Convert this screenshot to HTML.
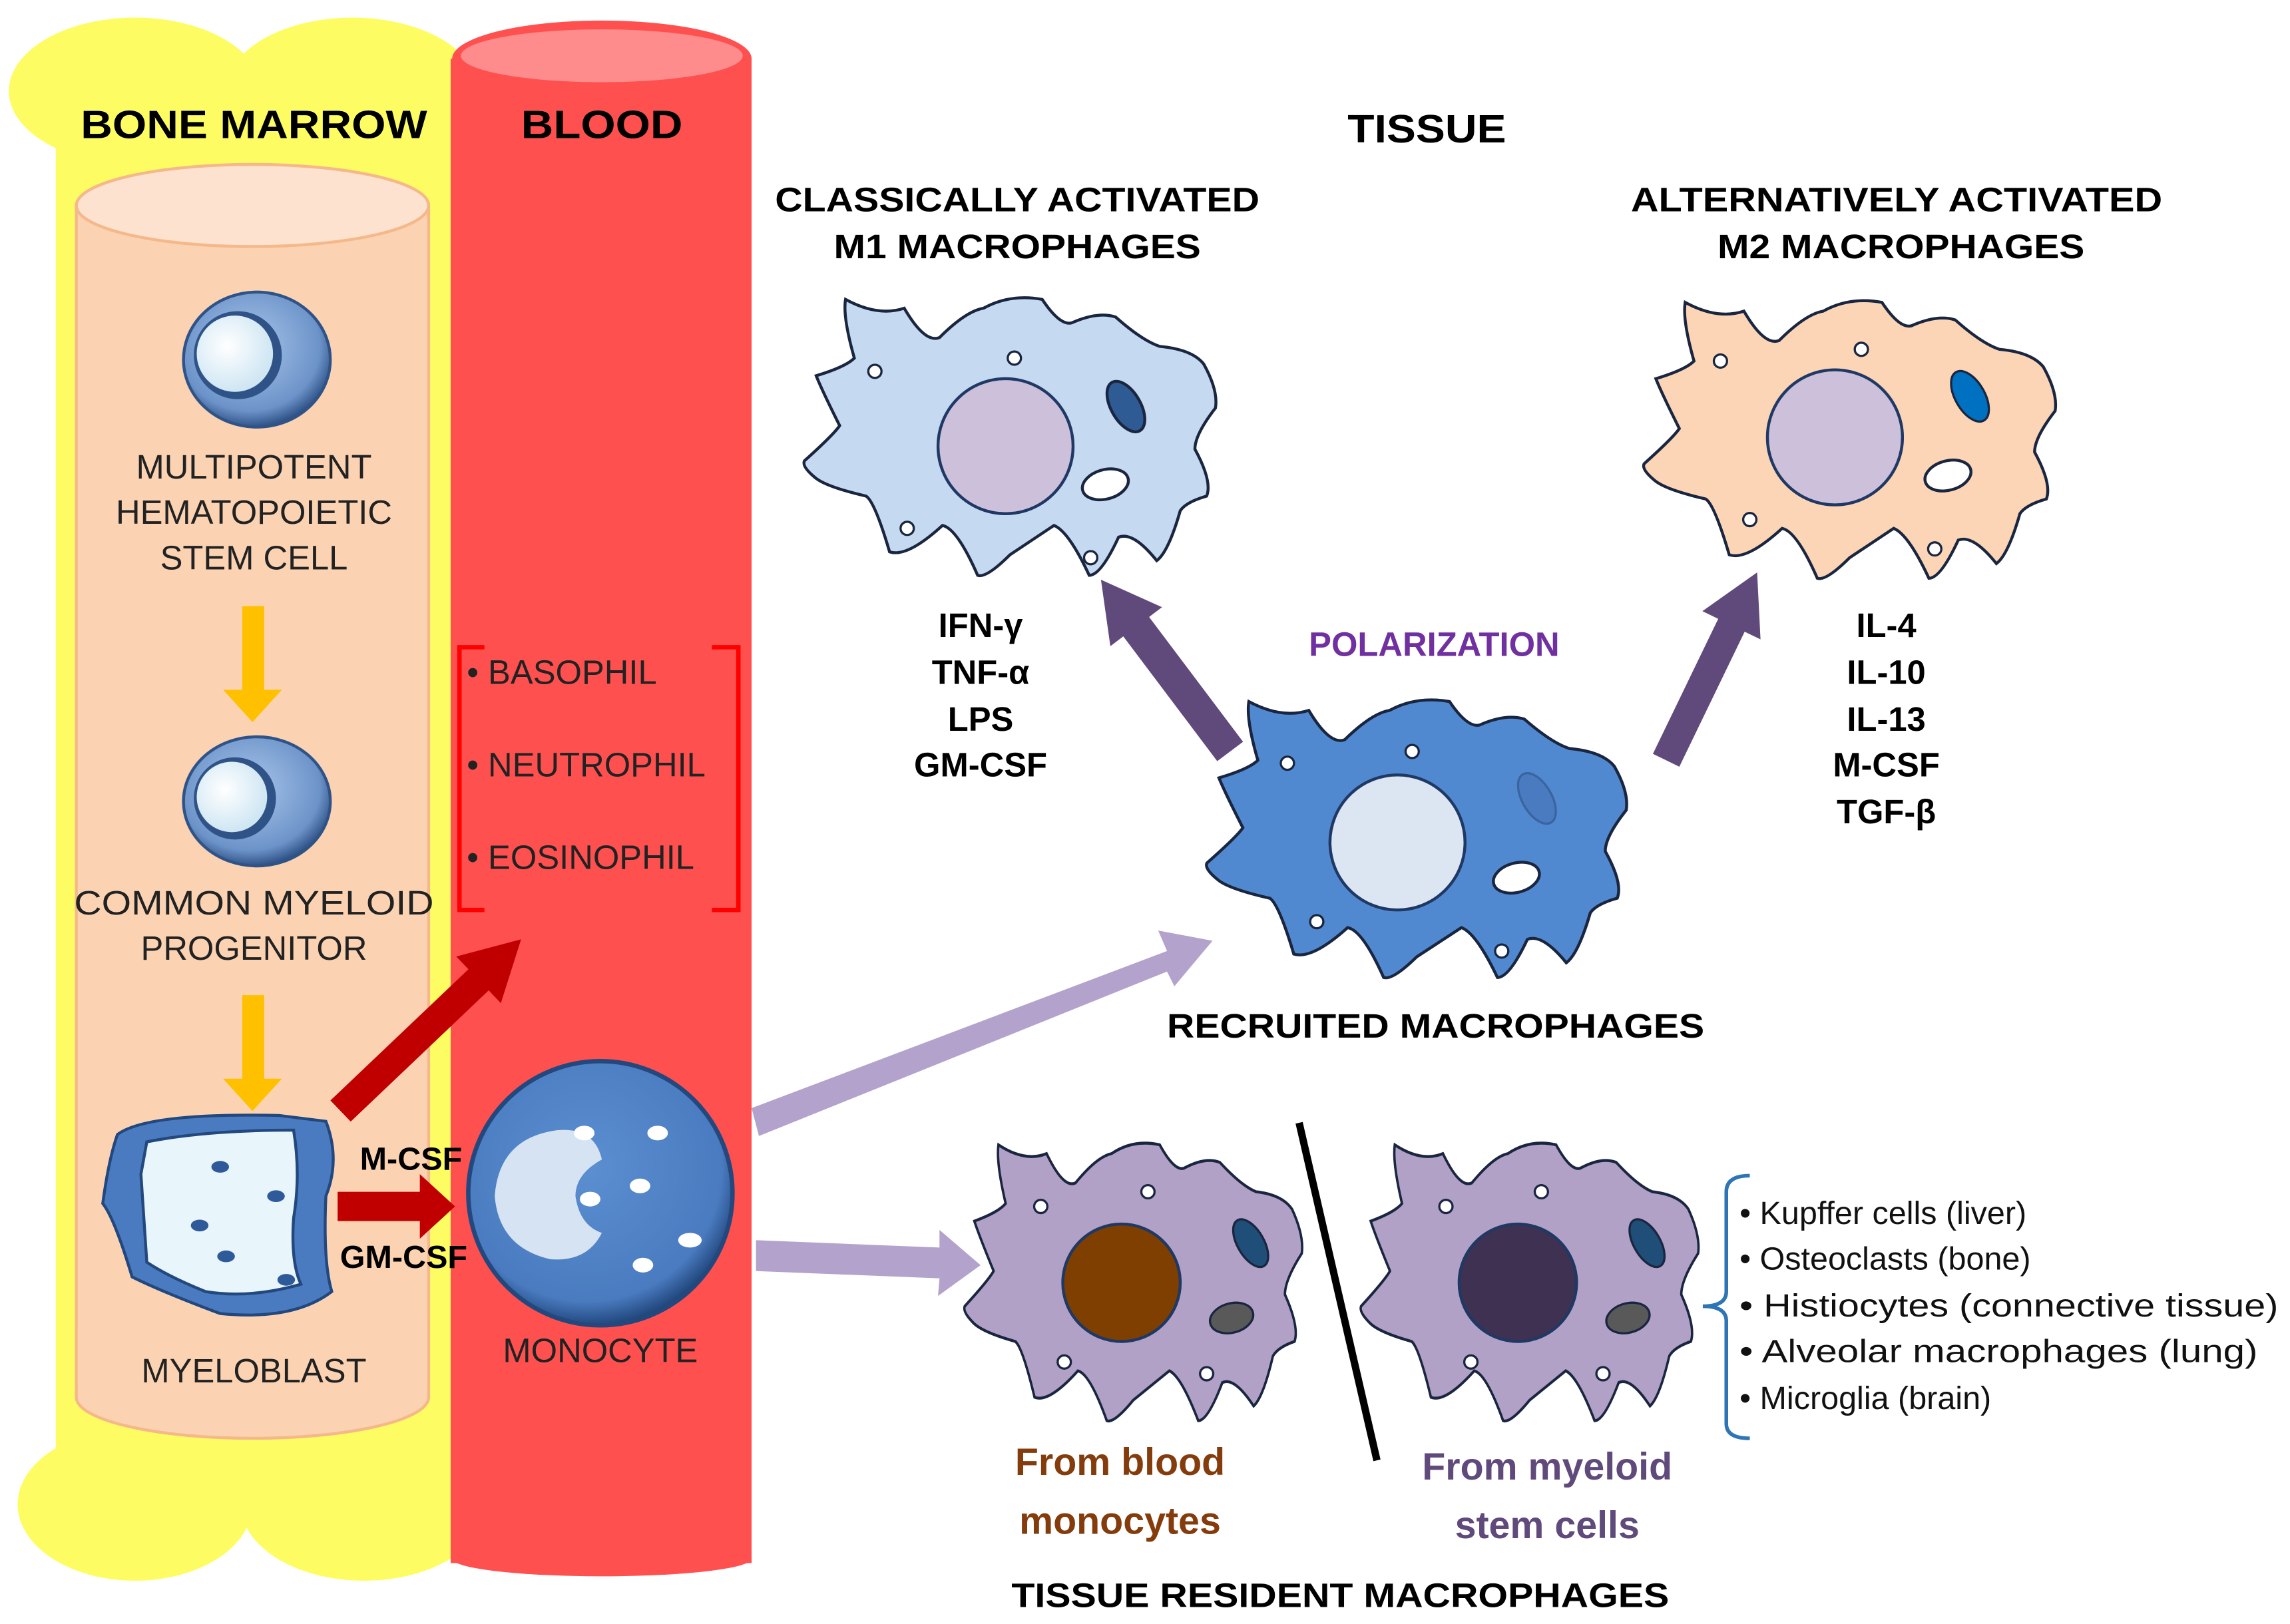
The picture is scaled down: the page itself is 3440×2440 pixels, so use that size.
<!DOCTYPE html>
<html><head><meta charset="utf-8"><style>
html,body{margin:0;padding:0;background:#fff}
svg{display:block}
text{font-family:"Liberation Sans",Arial,sans-serif}
</style></head><body>
<svg width="3440" height="2440" viewBox="0 0 1560 1106.5" xmlns="http://www.w3.org/2000/svg">
<defs>
<path id="mac" d="M -112,-92 Q -90,-80 -72,-86 Q -58,-62 -48,-66 Q -30,-84 -18,-86 Q 0,-96 22,-92 Q 34,-74 42,-76 Q 60,-84 72,-80 Q 90,-64 102,-60 Q 124,-58 132,-48 Q 142,-30 140,-18 Q 126,0 126,10 Q 138,32 134,42 Q 120,46 116,52 Q 108,80 100,86 Q 84,66 74,70 Q 62,96 54,96 Q 40,66 30,62 Q 12,74 0,82 Q -16,98 -22,96 Q -36,64 -46,62 Q -70,84 -82,80 Q -92,46 -98,42 Q -124,36 -132,30 Q -142,22 -140,18 Q -120,0 -116,-6 Q -128,-30 -132,-40 Q -112,-46 -106,-52 Q -114,-80 -112,-92 Z"/>
<radialGradient id="cellg" cx="45%" cy="40%" r="60%"><stop offset="0" stop-color="#a9c6ea"/><stop offset="0.8" stop-color="#6c93c9"/><stop offset="1" stop-color="#2f5387"/></radialGradient>
<radialGradient id="nucg" cx="40%" cy="40%" r="60%"><stop offset="0" stop-color="#ffffff"/><stop offset="1" stop-color="#cfe6f3"/></radialGradient>
<radialGradient id="monog" cx="45%" cy="40%" r="60%"><stop offset="0" stop-color="#5b8fd0"/><stop offset="0.85" stop-color="#4a7bc0"/><stop offset="1" stop-color="#22487e"/></radialGradient>
</defs>

<g fill="#fdfd63">
<rect x="38" y="55" width="282" height="985"/>
<ellipse cx="92" cy="62" rx="86" ry="50"/>
<ellipse cx="240" cy="62" rx="86" ry="50"/>
<ellipse cx="92" cy="1025" rx="80" ry="52"/>
<ellipse cx="248" cy="1025" rx="84" ry="52"/>
</g>
<rect x="52" y="140" width="240" height="812" fill="#fbd3b3" stroke="#f5b88a" stroke-width="2"/>
<ellipse cx="172" cy="952" rx="120" ry="28" fill="#fbd3b3" stroke="#f5b88a" stroke-width="2"/>
<rect x="53" y="900" width="238" height="52" fill="#fbd3b3"/>
<ellipse cx="172" cy="140" rx="120" ry="28" fill="#fde3cf" stroke="#f5b88a" stroke-width="2"/>

<rect x="307" y="40" width="205" height="1025" fill="#ff5050"/>
<ellipse cx="410" cy="1062" rx="102" ry="12" fill="#ff5050"/>
<ellipse cx="410" cy="40" rx="102" ry="26" fill="#ff5050"/>
<ellipse cx="410" cy="38" rx="96" ry="18" fill="#ff8c8c"/>

<text x="173" y="94" font-size="27" font-weight="bold" text-anchor="middle" textLength="236" lengthAdjust="spacingAndGlyphs">BONE MARROW</text>
<text x="410" y="94" font-size="27" font-weight="bold" text-anchor="middle" textLength="110" lengthAdjust="spacingAndGlyphs">BLOOD</text>
<text x="972" y="97" font-size="27" font-weight="bold" text-anchor="middle" textLength="108" lengthAdjust="spacingAndGlyphs">TISSUE</text>

<ellipse cx="175" cy="245" rx="50" ry="46" fill="url(#cellg)" stroke="#2f5387" stroke-width="2"/>
<circle cx="162" cy="242" r="30" fill="#2f5387"/>
<circle cx="160" cy="241" r="26" fill="url(#nucg)"/>
<text font-size="23" text-anchor="middle" fill="#222"><tspan x="173" y="326">MULTIPOTENT</tspan><tspan x="173" y="357">HEMATOPOIETIC</tspan><tspan x="173" y="388">STEM CELL</tspan></text>
<g fill="#ffc000">
<polygon points="165,413 180,413 180,470 192,470 172,492 152,470 165,470"/>
<polygon points="165,678 180,678 180,735 192,735 172,757 152,735 165,735"/>
</g>
<ellipse cx="175" cy="546" rx="50" ry="44" fill="url(#cellg)" stroke="#2f5387" stroke-width="2"/>
<circle cx="160" cy="544" r="28" fill="#2f5387"/>
<circle cx="158" cy="543" r="24" fill="url(#nucg)"/>
<text font-size="23" text-anchor="middle" fill="#222"><tspan x="173" y="623" textLength="245" lengthAdjust="spacingAndGlyphs">COMMON MYELOID</tspan><tspan x="173" y="654">PROGENITOR</tspan></text>

<path d="M 80,773 Q 100,758 190,760 L 222,764 Q 232,790 222,815 Q 220,860 226,880 Q 200,900 150,895 Q 110,880 90,870 Q 78,830 70,820 Q 74,790 80,773 Z" fill="#4a7bc0" stroke="#22487e" stroke-width="2"/>
<path d="M 100,778 Q 140,770 200,770 Q 205,800 200,830 Q 198,860 205,875 Q 170,885 140,880 Q 115,870 100,860 Q 98,830 96,800 Z" fill="#e8f5fb" stroke="#22487e" stroke-width="2"/>
<g fill="#2f5a9a"><ellipse cx="150" cy="795" rx="6" ry="4"/><ellipse cx="188" cy="815" rx="6" ry="4"/><ellipse cx="136" cy="835" rx="6" ry="4"/><ellipse cx="154" cy="856" rx="6" ry="4"/><ellipse cx="195" cy="872" rx="6" ry="4"/></g>
<text x="173" y="942" font-size="23" text-anchor="middle" fill="#222">MYELOBLAST</text>

<polygon points="225.1,749.8 319.1,660.4 310.8,651.7 355,640 341.2,683.5 332.9,674.8 238.9,764.2" fill="#c00000"/>
<polygon points="230,812 286,812 286,800 310,822 286,844 286,832 230,832" fill="#c00000"/>
<text x="280" y="797" font-size="22" font-weight="bold" text-anchor="middle">M-CSF</text>
<text x="275" y="864" font-size="22" font-weight="bold" text-anchor="middle">GM-CSF</text>

<path d="M 330,441 L 313,441 L 313,620 L 330,620 M 485,441 L 503,441 L 503,620 L 485,620" fill="none" stroke="#ff0000" stroke-width="3"/>
<text font-size="23" fill="#222"><tspan x="318" y="466">• BASOPHIL</tspan><tspan x="318" y="529">• NEUTROPHIL</tspan><tspan x="318" y="592">• EOSINOPHIL</tspan></text>

<circle cx="409" cy="813" r="90" fill="url(#monog)" stroke="#22487e" stroke-width="3"/>
<path d="M 380,770 Q 405,768 410,790 Q 392,800 392,815 Q 395,835 410,840 Q 400,860 375,858 Q 340,850 337,815 Q 340,775 380,770 Z" fill="#d6e3f2"/>
<g fill="#fff"><ellipse cx="398" cy="772" rx="7" ry="5"/><ellipse cx="448" cy="772" rx="7" ry="5"/><ellipse cx="436" cy="808" rx="7" ry="5"/><ellipse cx="402" cy="817" rx="7" ry="5"/><ellipse cx="470" cy="845" rx="8" ry="5"/><ellipse cx="438" cy="862" rx="7" ry="5"/></g>
<text x="409" y="928" font-size="23" text-anchor="middle" fill="#222">MONOCYTE</text>

<polygon points="512,755 795,648 789,634 826,641 800,672 795,662 517,774" fill="#b3a2cc"/>
<polygon points="515,845 640,850 640,838 668,862 639,883 640,871 515,866" fill="#b3a2cc"/>

<text font-size="23" font-weight="bold" text-anchor="middle"><tspan x="693" y="144" textLength="330" lengthAdjust="spacingAndGlyphs">CLASSICALLY ACTIVATED</tspan><tspan x="693" y="176" textLength="250" lengthAdjust="spacingAndGlyphs">M1 MACROPHAGES</tspan></text>
<g transform="translate(688,296)">
<use href="#mac" fill="#c5d9f1" stroke="#1a2640" stroke-width="2"/>
<circle cx="-3" cy="8" r="46" fill="#ccc0da" stroke="#1f3864" stroke-width="2"/>
<ellipse cx="79" cy="-19" rx="10" ry="19" transform="rotate(-30 79 -19)" fill="#2f5b95" stroke="#1a2640" stroke-width="2"/>
<ellipse cx="65" cy="34" rx="16" ry="10" transform="rotate(-15 65 34)" fill="#fff" stroke="#1a2640" stroke-width="2"/>
<circle cx="-92" cy="-43" r="4.5" fill="#fff" stroke="#1a2640" stroke-width="1.5"/>
<circle cx="3" cy="-52" r="4.5" fill="#fff" stroke="#1a2640" stroke-width="1.5"/>
<circle cx="-70" cy="64" r="4.5" fill="#fff" stroke="#1a2640" stroke-width="1.5"/>
<circle cx="55" cy="84" r="4.5" fill="#fff" stroke="#1a2640" stroke-width="1.5"/>
</g>
<text font-size="23" font-weight="bold" text-anchor="middle"><tspan x="668" y="434">IFN-γ</tspan><tspan x="668" y="466">TNF-α</tspan><tspan x="668" y="498">LPS</tspan><tspan x="668" y="529">GM-CSF</tspan></text>

<polygon points="829.2,518.6 765.2,433.6 756.4,440.3 750,395 791.6,413.7 782.8,420.4 846.8,505.4" fill="#604a7b"/>
<polygon points="1126,513.6 1170.5,421.6 1159.7,416.4 1197,390 1199.3,435.6 1188.5,430.4 1144,522.4" fill="#604a7b"/>
<text x="977" y="447" font-size="23" font-weight="bold" fill="#7030a0" text-anchor="middle">POLARIZATION</text>

<g transform="translate(965,570)">
<use href="#mac" fill="#5189d1" stroke="#1a2640" stroke-width="2" transform="scale(1.02 1.0)"/>
<circle cx="-13" cy="4" r="46" fill="#dce6f2" stroke="#1f3864" stroke-width="2"/>
<ellipse cx="82" cy="-26" rx="10" ry="19" transform="rotate(-30 82 -26)" fill="#4a7bc0" stroke="#3a64a0" stroke-width="1.5"/>
<ellipse cx="68" cy="28" rx="16" ry="10" transform="rotate(-15 68 28)" fill="#fff" stroke="#1a2640" stroke-width="2"/>
<circle cx="-88" cy="-50" r="4.5" fill="#fff" stroke="#1a2640" stroke-width="1.5"/>
<circle cx="-3" cy="-58" r="4.5" fill="#fff" stroke="#1a2640" stroke-width="1.5"/>
<circle cx="-68" cy="58" r="4.5" fill="#fff" stroke="#1a2640" stroke-width="1.5"/>
<circle cx="58" cy="78" r="4.5" fill="#fff" stroke="#1a2640" stroke-width="1.5"/>
</g>
<text x="978" y="707" font-size="23" font-weight="bold" text-anchor="middle" textLength="366" lengthAdjust="spacingAndGlyphs">RECRUITED MACROPHAGES</text>

<text font-size="23" font-weight="bold" text-anchor="middle"><tspan x="1292" y="144" textLength="362" lengthAdjust="spacingAndGlyphs">ALTERNATIVELY ACTIVATED</tspan><tspan x="1295" y="176" textLength="250" lengthAdjust="spacingAndGlyphs">M2 MACROPHAGES</tspan></text>
<g transform="translate(1260,298)">
<use href="#mac" fill="#fbd5b5" stroke="#1a2640" stroke-width="2"/>
<circle cx="-10" cy="0" r="46" fill="#ccc0da" stroke="#1f3864" stroke-width="2"/>
<ellipse cx="82" cy="-28" rx="10" ry="19" transform="rotate(-30 82 -28)" fill="#0070c0" stroke="#1a2640" stroke-width="1.5"/>
<ellipse cx="67" cy="26" rx="16" ry="10" transform="rotate(-15 67 26)" fill="#fff" stroke="#1a2640" stroke-width="2"/>
<circle cx="-88" cy="-52" r="4.5" fill="#fff" stroke="#1a2640" stroke-width="1.5"/>
<circle cx="8" cy="-60" r="4.5" fill="#fff" stroke="#1a2640" stroke-width="1.5"/>
<circle cx="-68" cy="56" r="4.5" fill="#fff" stroke="#1a2640" stroke-width="1.5"/>
<circle cx="58" cy="76" r="4.5" fill="#fff" stroke="#1a2640" stroke-width="1.5"/>
</g>
<text font-size="23" font-weight="bold" text-anchor="middle"><tspan x="1285" y="434">IL-4</tspan><tspan x="1285" y="466">IL-10</tspan><tspan x="1285" y="498">IL-13</tspan><tspan x="1285" y="529">M-CSF</tspan><tspan x="1285" y="561">TGF-β</tspan></text>

<g transform="translate(772,872)">
<use href="#mac" fill="#b2a1c7" stroke="#1a2640" stroke-width="2" transform="scale(0.82 1.0)"/>
<circle cx="-8" cy="2" r="40" fill="#7f3f00" stroke="#1f3864" stroke-width="2"/>
<ellipse cx="80" cy="-25" rx="9" ry="18" transform="rotate(-30 80 -25)" fill="#1f4e79" stroke="#1a2640" stroke-width="1.5"/>
<ellipse cx="67" cy="26" rx="15" ry="10" transform="rotate(-15 67 26)" fill="#595959" stroke="#1a2640" stroke-width="1.5"/>
<circle cx="-63" cy="-50" r="4.5" fill="#fff" stroke="#1a2640" stroke-width="1.5"/>
<circle cx="10" cy="-60" r="4.5" fill="#fff" stroke="#1a2640" stroke-width="1.5"/>
<circle cx="-47" cy="56" r="4.5" fill="#fff" stroke="#1a2640" stroke-width="1.5"/>
<circle cx="50" cy="64" r="4.5" fill="#fff" stroke="#1a2640" stroke-width="1.5"/>
</g>
<g transform="translate(1042,872)">
<use href="#mac" fill="#b2a1c7" stroke="#1a2640" stroke-width="2" transform="scale(0.82 1.0)"/>
<circle cx="-8" cy="2" r="40" fill="#3f3151" stroke="#1f3864" stroke-width="2"/>
<ellipse cx="80" cy="-25" rx="9" ry="18" transform="rotate(-30 80 -25)" fill="#1f4e79" stroke="#1a2640" stroke-width="1.5"/>
<ellipse cx="67" cy="26" rx="15" ry="10" transform="rotate(-15 67 26)" fill="#595959" stroke="#1a2640" stroke-width="1.5"/>
<circle cx="-57" cy="-50" r="4.5" fill="#fff" stroke="#1a2640" stroke-width="1.5"/>
<circle cx="8" cy="-60" r="4.5" fill="#fff" stroke="#1a2640" stroke-width="1.5"/>
<circle cx="-40" cy="56" r="4.5" fill="#fff" stroke="#1a2640" stroke-width="1.5"/>
<circle cx="50" cy="64" r="4.5" fill="#fff" stroke="#1a2640" stroke-width="1.5"/>
</g>
<line x1="885" y1="765" x2="938" y2="995" stroke="#000" stroke-width="5"/>
<text font-size="26" font-weight="bold" fill="#843c0c" text-anchor="middle"><tspan x="763" y="1005">From blood</tspan><tspan x="763" y="1045">monocytes</tspan></text>
<text font-size="26" font-weight="bold" fill="#604a7b" text-anchor="middle"><tspan x="1054" y="1008">From myeloid</tspan><tspan x="1054" y="1048">stem cells</tspan></text>
<text x="913" y="1095" font-size="23" font-weight="bold" text-anchor="middle" textLength="448" lengthAdjust="spacingAndGlyphs">TISSUE RESIDENT MACROPHAGES</text>

<path d="M 1192,801 Q 1176,801 1176,812 L 1176,880 Q 1176,890 1160,890 Q 1176,890 1176,900 L 1176,970 Q 1176,980 1192,980" fill="none" stroke="#2e75b6" stroke-width="2.5"/>
<text font-size="22" fill="#111"><tspan x="1185" y="834">• Kupffer cells (liver)</tspan><tspan x="1185" y="865">• Osteoclasts (bone)</tspan><tspan x="1185" y="897" textLength="367" lengthAdjust="spacingAndGlyphs">• Histiocytes (connective tissue)</tspan><tspan x="1185" y="928" textLength="353" lengthAdjust="spacingAndGlyphs">• Alveolar macrophages  (lung)</tspan><tspan x="1185" y="960">• Microglia (brain)</tspan></text>
</svg>
</body></html>
